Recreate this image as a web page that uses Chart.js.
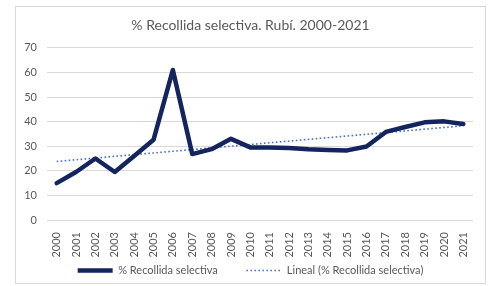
<!DOCTYPE html>
<html>
<head>
<meta charset="utf-8">
<script src="https://cdn.jsdelivr.net/npm/chart.js@4/dist/chart.umd.min.js"></script>
<style>
html,body{margin:0;padding:0;background:#fff;}
#wrap{width:491px;height:286px;position:relative;}
</style>
</head>
<body>
<div id="wrap"><canvas id="c" width="491" height="286"></canvas></div>
<script>
const years = ['2000','2001','2002','2003','2004','2005','2006','2007','2008','2009','2010','2011','2012','2013','2014','2015','2016','2017','2018','2019','2020','2021'];
const recollida = [15, 19.5, 25, 19.5, 26, 32.6, 61, 26.8, 28.8, 33, 29.5, 29.5, 29.3, 28.8, 28.5, 28.3, 29.9, 35.8, 37.8, 39.7, 40.1, 39];
const trendYears = ['2000','2021'];
const trendValues = [23.8, 38.3];
const yTicks = [0, 10, 20, 30, 40, 50, 60, 70];
const legendLabels = ['% Recollida selectiva', 'Lineal (% Recollida selectiva)'];

const FONT = 'Lato, "Open Sans", sans-serif';
const GREY = '#595959';

const frame = {
  id: 'frame',
  beforeDraw(chart) {
    const ctx = chart.ctx;
    ctx.save();
    ctx.fillStyle = '#fff';
    ctx.fillRect(0, 0, chart.width, chart.height);
    ctx.strokeStyle = '#d9d9d9';
    ctx.lineWidth = 1;
    ctx.strokeRect(15.5, 6.5, 470, 277);
    ctx.restore();
  }
};

new Chart(document.getElementById('c'), {
  type: 'line',
  data: {
    labels: years,
    datasets: [
      {
        label: legendLabels[0],
        data: recollida,
        borderColor: '#13245f',
        backgroundColor: '#13245f',
        borderWidth: 4.5,
        pointRadius: 0,
        tension: 0,
        borderJoinStyle: 'round',
        borderCapStyle: 'round'
      },
      {
        label: legendLabels[1],
        data: trendYears.map((x, i) => ({x: x, y: trendValues[i]})),
        borderColor: '#4472c4',
        backgroundColor: '#4472c4',
        borderWidth: 1.6,
        borderDash: [1.6, 2.4],
        pointRadius: 0,
        tension: 0
      }
    ]
  },
  options: {
    responsive: false,
    animation: false,
    layout: {padding: {left: 15, right: 5, top: 7, bottom: 0}},
    plugins: {
      title: {
        display: true,
        text: '% Recollida selectiva. Rubí. 2000-2021',
        color: GREY,
        font: {family: FONT, size: 14, weight: 'normal'},
        padding: {top: 10, bottom: 14}
      },
      legend: {
        position: 'bottom',
        labels: {
          color: GREY,
          font: {family: FONT, size: 11},
          usePointStyle: true,
          pointStyleWidth: 35,
          padding: 6,
          generateLabels(chart) {
            return chart.data.datasets.map((ds, i) => ({
              text: i === 0 ? ds.label + '        ' : ds.label,
              fillStyle: ds.borderColor,
              strokeStyle: ds.borderColor,
              lineWidth: i === 0 ? 4.5 : 1.6,
              lineDash: i === 0 ? [] : [1.6, 2.4],
              pointStyle: 'line',
              datasetIndex: i,
              fontColor: GREY
            }));
          }
        }
      },
      tooltip: {enabled: false}
    },
    scales: {
      x: {
        offset: true,
        grid: {display: false},
        border: {display: false},
        ticks: {
          color: GREY,
          font: {family: FONT, size: 11},
          maxRotation: 90,
          minRotation: 90,
          autoSkip: false,
          padding: 4
        },
        afterFit(s) { s.height = 39; }
      },
      y: {
        min: 0,
        max: 70,
        afterBuildTicks(s) { s.ticks = yTicks.map(v => ({value: v})); },
        grid: {color: '#d9d9d9', lineWidth: 1, drawTicks: false},
        border: {display: false},
        ticks: {
          color: GREY,
          font: {family: FONT, size: 11},
          padding: 10
        },
        afterFit(s) { s.width = 32; }
      },
      y2: {
        position: 'right',
        display: true,
        grid: {display: false, drawTicks: false},
        border: {display: false},
        ticks: {display: false},
        afterFit(s) { s.width = 13; }
      }
    }
  },
  plugins: [frame]
});
</script>
</body>
</html>
